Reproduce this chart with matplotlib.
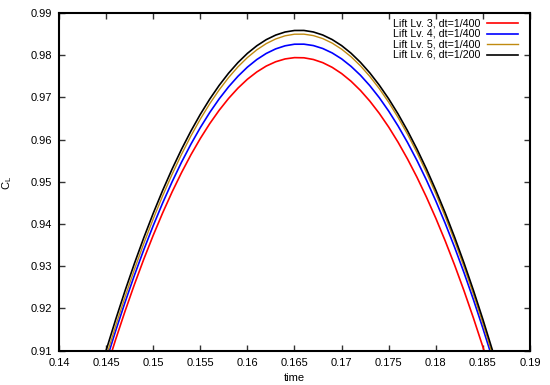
import numpy as np
import matplotlib
matplotlib.use("Agg")
import matplotlib.pyplot as plt

plt.rcParams['font.family'] = ['Liberation Sans', 'DejaVu Sans']
plt.rcParams['mathtext.default'] = 'regular'

# values (C_L vs time)
time = [0.144, 0.145, 0.146, 0.147, 0.148, 0.149, 0.150, 0.151, 0.152, 0.153, 0.154, 0.155,
        0.156, 0.157, 0.158, 0.159, 0.160, 0.161, 0.162, 0.163, 0.164, 0.165, 0.166, 0.167,
        0.168, 0.169, 0.170, 0.171, 0.172, 0.173, 0.174, 0.175, 0.176, 0.177, 0.178, 0.179,
        0.180, 0.181, 0.182, 0.183, 0.184, 0.185, 0.186, 0.187, 0.188]
cl_lv3 = [0.89805, 0.90549, 0.91257, 0.91929, 0.92566, 0.93168, 0.93733, 0.94263, 0.94758,
          0.95216, 0.95640, 0.96027, 0.96379, 0.96695, 0.96976, 0.97221, 0.97431, 0.97604,
          0.97743, 0.97845, 0.97912, 0.97943, 0.97939, 0.97899, 0.97824, 0.97713, 0.97566,
          0.97384, 0.97166, 0.96912, 0.96623, 0.96298, 0.95937, 0.95541, 0.95110, 0.94642,
          0.94139, 0.93601, 0.93027, 0.92417, 0.91771, 0.91090, 0.90374, 0.89621, 0.88833]
cl_lv4 = [0.89999, 0.90749, 0.91463, 0.92141, 0.92784, 0.93391, 0.93962, 0.94498, 0.94998,
          0.95463, 0.95891, 0.96285, 0.96643, 0.96965, 0.97251, 0.97502, 0.97718, 0.97898,
          0.98042, 0.98150, 0.98223, 0.98261, 0.98262, 0.98229, 0.98159, 0.98054, 0.97914,
          0.97737, 0.97526, 0.97278, 0.96995, 0.96676, 0.96322, 0.95932, 0.95507, 0.95046,
          0.94549, 0.94017, 0.93449, 0.92846, 0.92207, 0.91532, 0.90822, 0.90076, 0.89295]
cl_lv5 = [0.90088, 0.90851, 0.91578, 0.92268, 0.92922, 0.93540, 0.94122, 0.94667, 0.95176,
          0.95649, 0.96086, 0.96486, 0.96851, 0.97178, 0.97470, 0.97726, 0.97945, 0.98128,
          0.98275, 0.98385, 0.98460, 0.98498, 0.98499, 0.98465, 0.98394, 0.98287, 0.98144,
          0.97965, 0.97749, 0.97497, 0.97209, 0.96885, 0.96524, 0.96128, 0.95694, 0.95225,
          0.94720, 0.94178, 0.93600, 0.92986, 0.92335, 0.91648, 0.90925, 0.90166, 0.89371]
cl_lv6 = [0.90249, 0.91007, 0.91728, 0.92414, 0.93063, 0.93676, 0.94254, 0.94795, 0.95300,
          0.95769, 0.96202, 0.96599, 0.96960, 0.97285, 0.97574, 0.97827, 0.98044, 0.98224,
          0.98369, 0.98477, 0.98550, 0.98586, 0.98587, 0.98551, 0.98479, 0.98371, 0.98228,
          0.98048, 0.97832, 0.97580, 0.97291, 0.96967, 0.96607, 0.96211, 0.95778, 0.95310,
          0.94805, 0.94265, 0.93688, 0.93076, 0.92427, 0.91742, 0.91021, 0.90264, 0.89471]

labels = ["Lift Lv. 3, dt=1/400", "Lift Lv. 4, dt=1/400",
          "Lift Lv. 5, dt=1/400", "Lift Lv. 6, dt=1/200"]
colors = ["#ff0000", "#0000ff", "#c08a10", "#000000"]
widths = [1.2, 1.2, 1.0, 1.2]
series = [cl_lv3, cl_lv4, cl_lv5, cl_lv6]

xticks = np.arange(0.14, 0.1901, 0.005)
yticks = np.arange(0.91, 0.9901, 0.01)

fig = plt.figure(figsize=(5.5, 3.85), dpi=100)
ax = fig.add_axes([0.1073, 0.0891, 0.8563, 0.8771])

for y, lab, c, w in zip(series, labels, colors, widths):
    ax.plot(time, y, color=c, lw=w, label=lab)

ax.set_xlim(0.14, 0.19)
ax.set_ylim(0.91, 0.99)
ax.set_xticks(xticks)
ax.set_xticklabels(["%g" % round(v, 3) for v in xticks])
ax.set_yticks(yticks)
ax.set_yticklabels(["%.2f" % v for v in yticks])
ax.tick_params(direction='in', length=4, width=1, color='#333333', labelsize=8,
               top=True, right=True, pad=5)
for s in ax.spines.values():
    s.set_linewidth(1.5)

ax.set_xlabel("time", fontsize=8, labelpad=4)
fig.text(0.013, 0.525, r"C$_L$", rotation=90, fontsize=8, ha='center', va='center')

# legend gnuplot-style: text right-aligned, sample line on its right
rows = [0.9695, 0.939, 0.907, 0.876]
for lab, c, w, yy in zip(labels, colors, widths, rows):
    ax.text(0.894, yy, lab, transform=ax.transAxes, ha='right', va='center', fontsize=7.7)
    ax.plot([0.909, 0.975], [yy, yy], transform=ax.transAxes, color=c, lw=w)

fig.savefig("out.png", dpi=100)
